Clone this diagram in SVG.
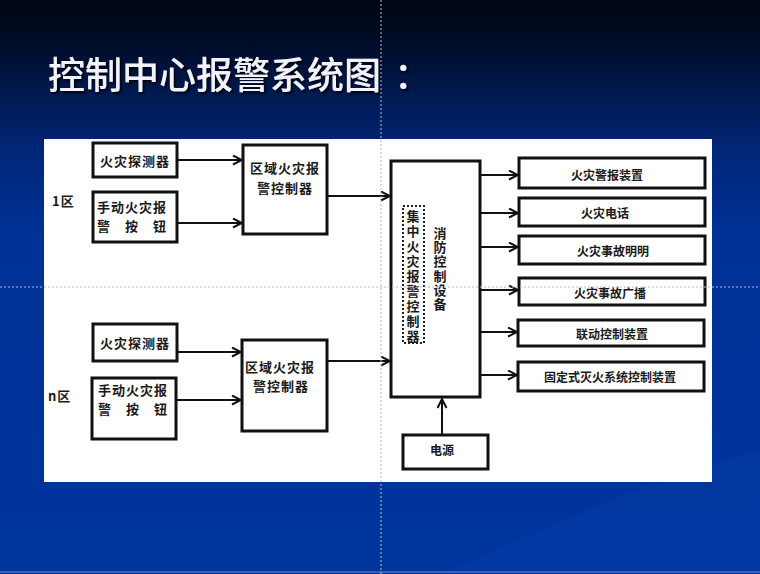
<svg xmlns="http://www.w3.org/2000/svg" width="760" height="574" viewBox="0 0 760 574">
<defs>
  <linearGradient id="bg" x1="0" y1="0" x2="0" y2="1">
    <stop offset="0" stop-color="#000612"/>
    <stop offset="0.08" stop-color="#000d2a"/>
    <stop offset="0.18" stop-color="#001c58"/>
    <stop offset="0.28" stop-color="#00287c"/>
    <stop offset="0.4" stop-color="#003196"/>
    <stop offset="1" stop-color="#00359e"/>
  </linearGradient>
  <filter id="shadow" x="-5%" y="-20%" width="110%" height="150%">
    <feDropShadow dx="2" dy="2" stdDeviation="1" flood-color="#000000" flood-opacity="0.8"/>
  </filter>
  <marker id="arr" markerUnits="userSpaceOnUse" markerWidth="12" markerHeight="12" refX="10" refY="5" orient="auto">
    <path d="M1,0.5 L10,5 L1,9.5" fill="none" stroke="#111" stroke-width="2"/>
  </marker>
</defs>
<style>
  .box{fill:#fff;stroke:#111;stroke-width:3}
  .t{font-family:"Noto Sans CJK SC","Noto Sans CJK TC",sans-serif;font-weight:700;fill:#1a1a1a;dominant-baseline:central}
  .l{font-size:13px;letter-spacing:1px}
  .r{font-size:12px;text-anchor:middle}
  .c{text-anchor:middle}
  .conn path{fill:none;stroke:#111;stroke-width:2;marker-end:url(#arr)}
  .guide{stroke:#b4bccb;stroke-width:1;stroke-dasharray:2 2;fill:none}
</style>
<rect x="0" y="0" width="760" height="574" fill="url(#bg)"/>
<path d="M440,574 C560,520 680,470 760,450 L760,574 Z" fill="#0a3fa8" opacity="0.35"/>
<line x1="0" y1="572" x2="760" y2="572" stroke="#6f8cc8" stroke-width="1"/>

<text x="48" y="89" font-family="'Noto Sans CJK SC',sans-serif" font-size="37" font-weight="500" fill="#f2f2fa" filter="url(#shadow)">控制中心报警系统图 <tspan x="394">：</tspan></text>

<rect x="44" y="139" width="668" height="343" fill="#ffffff"/>

<text class="t l" x="52" y="200">1区</text>
<text class="t l" x="48" y="395">n区</text>

<g id="det1"><rect class="box" x="93" y="143" width="84" height="34"/><text class="t l" x="100" y="160">火灾探测器</text></g>
<g id="btn1"><rect class="box" x="93" y="192" width="84" height="50"/><text class="t l" x="97" y="206">手动火灾报</text><text class="t l" x="97" y="225">警　按　钮</text></g>
<g id="reg1"><rect class="box" x="243" y="145" width="84" height="89"/><text class="t l c" x="285" y="167">区域火灾报</text><text class="t l c" x="285" y="187">警控制器</text></g>

<g id="detn"><rect class="box" x="93" y="324" width="84" height="37"/><text class="t l" x="100" y="342">火灾探测器</text></g>
<g id="btnn"><rect class="box" x="92" y="378" width="84" height="61"/><text class="t l" x="98" y="389">手动火灾报</text><text class="t l" x="98" y="408">警　按　钮</text></g>
<g id="regn"><rect class="box" x="242" y="340" width="85" height="91"/><text class="t l c" x="280" y="366">区域火灾报</text><text class="t l c" x="281" y="385">警控制器</text></g>

<g id="central">
  <rect class="box" x="391" y="161" width="89" height="236"/>
  <rect x="403" y="206" width="21" height="137" fill="none" stroke="#222" stroke-width="2" stroke-dasharray="2 2"/>
  <text class="t c" font-size="13" x="413 413 413 413 413 413 413 413 413" y="215 230 245 260 275 290 305 320 335">集中火灾报警控制器</text>
  <text class="t c" font-size="13" x="440 440 440 440 440 440" y="232 246 260 275 289 303">消防控制设备</text>
</g>

<g id="out1"><rect class="box" x="519" y="158" width="186" height="30"/><text class="t r" x="607" y="174">火灾警报装置</text></g>
<g id="out2"><rect class="box" x="519" y="198" width="186" height="28"/><text class="t r" x="605" y="212">火灾电话</text></g>
<g id="out3"><rect class="box" x="519" y="236" width="186" height="28"/><text class="t r" x="613" y="250">火灾事故明明</text></g>
<g id="out4"><rect class="box" x="519" y="278" width="186" height="27"/><text class="t r" x="610" y="292">火灾事故广播</text></g>
<g id="out5"><rect class="box" x="518" y="320" width="186" height="26"/><text class="t r" x="612" y="333">联动控制装置</text></g>
<g id="out6"><rect class="box" x="518" y="362" width="186" height="29"/><text class="t r" x="610" y="376">固定式灭火系统控制装置</text></g>

<g id="power"><rect class="box" x="403" y="435" width="85" height="34"/><text class="t r" x="442" y="449">电源</text></g>

<g id="connectors" class="conn">
  <path d="M178,160 H242"/>
  <path d="M178,223 H242"/>
  <path d="M328,196 H390"/>
  <path d="M178,352 H241"/>
  <path d="M177,400 H241"/>
  <path d="M328,361 H390"/>
  <path d="M481,175 H518"/>
  <path d="M481,213 H518"/>
  <path d="M481,247 H518"/>
  <path d="M481,290 H518"/>
  <path d="M481,332 H517"/>
  <path d="M481,375 H517"/>
  <path d="M442,434 V399"/>
</g>

<line class="guide" x1="381" y1="0" x2="381" y2="574"/>
<line class="guide" x1="0" y1="287" x2="760" y2="287"/>
</svg>
